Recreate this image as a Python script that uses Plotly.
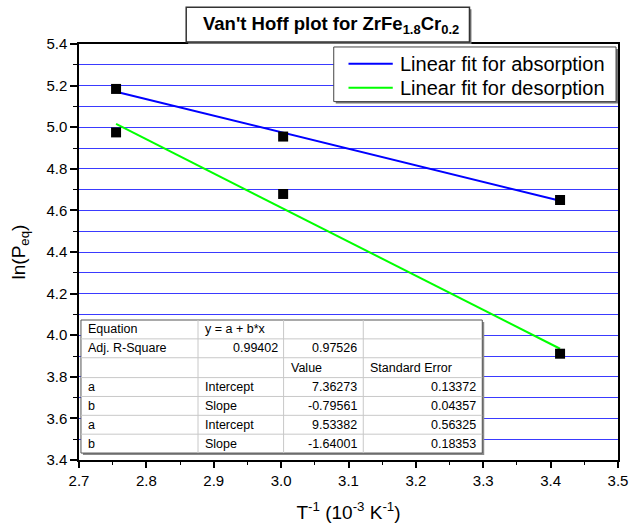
import plotly.graph_objects as go

# ---- data ----
abs_x = [2.755, 3.003, 3.414]
abs_y = [5.184, 4.955, 4.650]
des_x = [2.755, 3.003, 3.414]
des_y = [4.975, 4.679, 3.911]

# linear fit end points (y = a + b*x from the fit table)
fit_x = [2.755, 3.414]
abs_fit_y = [5.1708, 4.6465]
des_fit_y = [5.0156, 3.9349]

legend_names = ["Linear fit for absorption", "Linear fit for desorption"]
fit_colors = ["#0000ff", "#00ff00"]

table_rows = [
    ["Equation", "y = a + b*x", "", ""],
    ["Adj. R-Square", "0.99402", "0.97526", ""],
    ["", "", "Value", "Standard Error"],
    ["a", "Intercept", "7.36273", "0.13372"],
    ["b", "Slope", "-0.79561", "0.04357"],
    ["a", "Intercept", "9.53382", "0.56325"],
    ["b", "Slope", "-1.64001", "0.18353"],
]
right_cells = {(1, 1), (1, 2), (3, 2), (4, 2), (5, 2), (6, 2), (3, 3), (4, 3), (5, 3), (6, 3)}

# ---- layout geometry (pixels) ----
W, H = 640, 532
L, R, T, B = 79, 627, 44, 463


def px(x):
    return (x - L) / (R - L)


def py(y):
    return (B - y) / (B - T)


FONT = "Arial, Liberation Sans, sans-serif"

fig = go.Figure()

fig.add_trace(go.Scatter(x=fit_x, y=abs_fit_y, mode="lines",
                         line=dict(color=fit_colors[0], width=2),
                         name=legend_names[0], showlegend=False))
fig.add_trace(go.Scatter(x=fit_x, y=des_fit_y, mode="lines",
                         line=dict(color=fit_colors[1], width=2),
                         name=legend_names[1], showlegend=False))
fig.add_trace(go.Scatter(x=abs_x, y=abs_y, mode="markers",
                         marker=dict(symbol="square", size=10, color="black"),
                         showlegend=False))
fig.add_trace(go.Scatter(x=des_x, y=des_y, mode="markers",
                         marker=dict(symbol="square", size=10, color="black"),
                         showlegend=False))

shapes = []
annotations = []

# title box (with shadow)
shapes.append(dict(type="rect", xref="paper", yref="paper",
                   x0=px(190), x1=px(478), y0=py(44), y1=py(9),
                   line=dict(width=0), fillcolor="#777777"))
shapes.append(dict(type="rect", xref="paper", yref="paper",
                   x0=px(188), x1=px(476), y0=py(42), y1=py(7),
                   line=dict(color="#333333", width=1.5), fillcolor="white"))
annotations.append(dict(xref="paper", yref="paper", x=px(335), y=py(25),
                        text="<b>Van't Hoff plot for ZrFe<sub>1.8</sub>Cr<sub>0.2</sub></b>",
                        showarrow=False, font=dict(size=18.5, color="black", family=FONT),
                        xanchor="center", yanchor="middle"))

# legend box (manual) with shadow
shapes.append(dict(type="rect", xref="paper", yref="paper", layer="above",
                   x0=px(340), x1=px(627), y0=py(104), y1=py(49),
                   line=dict(width=0), fillcolor="#777777"))
shapes.append(dict(type="rect", xref="paper", yref="paper", layer="above",
                   x0=px(338), x1=px(625), y0=py(102), y1=py(47),
                   line=dict(color="#444444", width=1), fillcolor="white"))
for i, (nm, col) in enumerate(zip(legend_names, fit_colors)):
    yy = 64 + 24 * i
    shapes.append(dict(type="line", xref="paper", yref="paper", layer="above",
                       x0=px(353), x1=px(398), y0=py(yy), y1=py(yy),
                       line=dict(color=col, width=2)))
    annotations.append(dict(xref="paper", yref="paper", x=px(403), y=py(yy),
                            text=nm, showarrow=False, xanchor="left", yanchor="middle",
                            font=dict(size=20, color="black", family=FONT)))

# table
col_x = [81, 200, 287, 368, 489]
row_y = [322, 341, 360, 380, 399, 418, 437, 456]
shapes.append(dict(type="rect", xref="paper", yref="paper", layer="above",
                   x0=px(col_x[0] + 2), x1=px(col_x[-1] + 2), y0=py(row_y[-1] + 2), y1=py(row_y[0] + 2),
                   line=dict(width=0), fillcolor="#8a8a8a"))
shapes.append(dict(type="rect", xref="paper", yref="paper", layer="above",
                   x0=px(col_x[0]), x1=px(col_x[-1]), y0=py(row_y[-1]), y1=py(row_y[0]),
                   line=dict(color="#555555", width=1), fillcolor="white"))
for yy in row_y[1:-1]:
    shapes.append(dict(type="line", xref="paper", yref="paper", layer="above",
                       x0=px(col_x[0]), x1=px(col_x[-1]), y0=py(yy), y1=py(yy),
                       line=dict(color="#c8c8c8", width=1)))
for xx in col_x[1:-1]:
    shapes.append(dict(type="line", xref="paper", yref="paper", layer="above",
                       x0=px(xx), x1=px(xx), y0=py(row_y[-1]), y1=py(row_y[0]),
                       line=dict(color="#c8c8c8", width=1)))
for r, row in enumerate(table_rows):
    yc = (row_y[r] + row_y[r + 1]) / 2
    for c, txt in enumerate(row):
        if not txt:
            continue
        if (r, c) in right_cells:
            xa, anchor = col_x[c + 1] - 4, "right"
        else:
            xa, anchor = col_x[c] + 5, "left"
        annotations.append(dict(xref="paper", yref="paper", x=px(xa), y=py(yc),
                                text=txt, showarrow=False, xanchor=anchor, yanchor="middle",
                                font=dict(size=12.5, color="black", family=FONT)))

grid_color = "#3a3aff"
fig.update_layout(
    width=W, height=H,
    margin=dict(l=L, r=W - R, t=T, b=H - B),
    paper_bgcolor="white", plot_bgcolor="white",
    font=dict(family=FONT, color="black"),
    showlegend=False,
    xaxis=dict(range=[2.7, 3.5], dtick=0.1, tick0=2.7, tickformat=".1f",
               showgrid=False, zeroline=False,
               showline=True, linecolor="black", linewidth=1.5, mirror=True,
               ticks="outside", ticklen=6, tickwidth=1.5, tickcolor="black",
               minor=dict(dtick=0.05, ticks="outside", ticklen=3, tickcolor="black", tickwidth=1),
               tickfont=dict(size=15, family=FONT, color="black"),
               title=dict(text="T<sup>-1</sup> (10<sup>-3</sup> K<sup>-1</sup>)",
                          font=dict(size=19, family=FONT, color="black"), standoff=18)),
    yaxis=dict(range=[3.4, 5.4], dtick=0.2, tick0=3.4, tickformat=".1f",
               showgrid=True, gridcolor=grid_color, gridwidth=1, zeroline=False,
               showline=True, linecolor="black", linewidth=1.5, mirror=True,
               ticks="outside", ticklen=7, tickwidth=1.5, tickcolor="black",
               minor=dict(dtick=0.1, ticks="outside", ticklen=4, tickcolor="black", tickwidth=1,
                          showgrid=True, gridcolor=grid_color, gridwidth=1),
               tickfont=dict(size=15, family=FONT, color="black"),
               title=dict(text="ln(P<sub>eq</sub>)",
                          font=dict(size=19, family=FONT, color="black"), standoff=16)),
    shapes=shapes,
    annotations=annotations,
)

fig.write_html("out.html")
